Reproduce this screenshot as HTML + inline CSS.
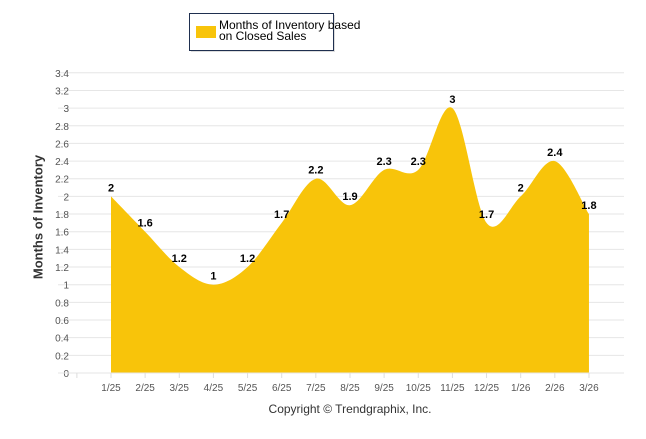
<!DOCTYPE html>
<html><head><meta charset="utf-8"><style>
body{margin:0;background:#fff;font-family:"Liberation Sans",Arial,sans-serif}
svg text{font-family:"Liberation Sans",Arial,sans-serif}
</style></head><body>
<svg id="c" width="646" height="434" viewBox="0 0 646 434">
<g>
<rect x="191" y="15" width="144" height="37" fill="#bbb" opacity="0.5"/>
<rect x="189.5" y="13.5" width="144" height="37" fill="#fff" stroke="#1f2f4f" stroke-width="1"/>
<rect x="196" y="26" width="20" height="12" fill="#F8C40A"/>
<text x="219" y="29" font-size="12" fill="#000"><tspan x="219">Months of Inventory based</tspan><tspan x="219" dy="11">on Closed Sales</tspan></text>
</g>
<g id="grid"></g>
<g id="area"></g>
<g id="axes"></g>
<text x="39" y="217" font-size="13" font-weight="bold" fill="#333" transform="rotate(-90 39 217)" text-anchor="middle" dominant-baseline="middle">Months of Inventory</text>
<text x="350" y="413" font-size="12" fill="#333" text-anchor="middle">Copyright © Trendgraphix, Inc.</text>
</svg>
<script>
const categories=["1/25","2/25","3/25","4/25","5/25","6/25","7/25","8/25","9/25","10/25","11/25","12/25","1/26","2/26","3/26"];
const values=[2,1.6,1.2,1,1.2,1.7,2.2,1.9,2.3,2.3,3,1.7,2,2.4,1.8];
const yTicks=[0,0.2,0.4,0.6,0.8,1,1.2,1.4,1.6,1.8,2,2.2,2.4,2.6,2.8,3,3.2,3.4];
const NS="http://www.w3.org/2000/svg";
const x=i=>111+i*34.14;
const y=v=>373-v*88.3;
function mk(t,a,p){const e=document.createElementNS(NS,t);for(const k in a)e.setAttribute(k,a[k]);p.appendChild(e);return e;}
const grid=document.getElementById('grid'),axes=document.getElementById('axes'),area=document.getElementById('area');
yTicks.forEach(t=>{
 if(t>0){const l=mk('line',{x1:58,x2:624,y1:y(t),y2:y(t),stroke:'#e6e6e6','stroke-width':1},grid);
 
 }
 const tx=mk('text',{x:69,y:y(t)+4,'font-size':10,fill:'#555','text-anchor':'end'},axes);tx.textContent=t;
 
 
});
const base=mk('line',{x1:58,x2:624,y1:373,y2:373,stroke:'#e6e6e6'},axes);


[-1].concat(categories.map((c,i)=>i)).forEach(i=>{mk('line',{x1:x(i),x2:x(i),y1:373,y2:378,stroke:'#ddd'},axes);});
categories.forEach((c,i)=>{const t=mk('text',{x:x(i),y:391,'font-size':10,fill:'#555','text-anchor':'middle'},axes);t.textContent=c;
 
 });
const P=values.map((v,i)=>[x(i),y(v)]);
let d=`M${P[0][0]},${y(0)} L${P[0][0]},${P[0][1]}`;
for(let i=0;i<P.length-1;i++){
 const p0=P[Math.max(i-1,0)],p1=P[i],p2=P[i+1],p3=P[Math.min(i+2,P.length-1)];
 const k=1/6;
 d+=` C${p1[0]+(p2[0]-p0[0])*k},${p1[1]+(p2[1]-p0[1])*k} ${p2[0]-(p3[0]-p1[0])*k},${p2[1]-(p3[1]-p1[1])*k} ${p2[0]},${p2[1]}`;
}
d+=` L${P[P.length-1][0]},${y(0)} Z`;
const ar=mk('path',{d:d,fill:'#F8C40A'},area);


values.forEach((v,i)=>{const t=mk('text',{x:x(i),y:y(v)-5,'font-size':11,'font-weight':'bold',fill:'#000','text-anchor':'middle'},area);t.textContent=v;
 
 });
</script>
</body></html>
